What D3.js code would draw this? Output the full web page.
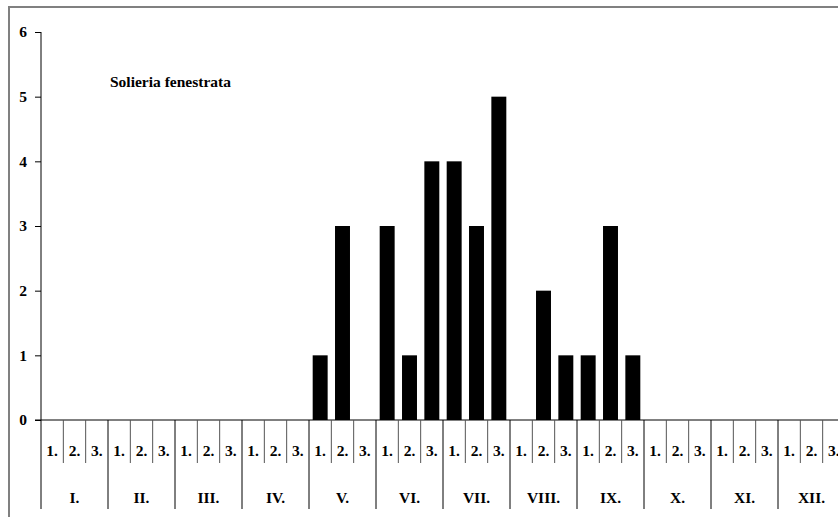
<!DOCTYPE html>
<html>
<head>
<meta charset="utf-8">
<script src="https://cdn.jsdelivr.net/npm/d3@7"></script>
<style>
  body { margin: 0; background: #fff; }
  text { font-family: "Liberation Serif", "DejaVu Serif", serif; font-weight: bold; fill: #000; }
</style>
</head>
<body>
<div id="chart"></div>
<script>
// months and decades (1st, 2nd, 3rd ten days of each month)
const months = ['I.', 'II.', 'III.', 'IV.', 'V.', 'VI.', 'VII.', 'VIII.', 'IX.', 'X.', 'XI.', 'XII.'];
const decades = ['1.', '2.', '3.'];
// counts per decade, Jan.1 .. Dec.3
const counts = [
  0, 0, 0,  0, 0, 0,  0, 0, 0,  0, 0, 0,
  1, 3, 0,  3, 1, 4,  4, 3, 5,  0, 2, 1,
  1, 3, 1,  0, 0, 0,  0, 0, 0,  0, 0, 0
];
const yTicks = [0, 1, 2, 3, 4, 5, 6];
const title = 'Solieria fenestrata';

const width = 838, height = 517;
const margin = { left: 41, top: 32, bottom: 420 };
const fs = '15.5px';

const slots = [];
months.forEach((m, i) => decades.forEach((d, j) => slots.push({ month: m, mi: i, dec: d, key: i * 3 + j })));

const svg = d3.select('#chart').append('svg')
  .attr('width', width)
  .attr('height', height);

// outer frame (runs off the right and bottom edge)
svg.append('rect')
  .attr('x', 9).attr('y', 7)
  .attr('width', 900).attr('height', 600)
  .attr('fill', 'none')
  .attr('stroke', '#808080')
  .attr('stroke-width', 2);

const x = d3.scaleBand()
  .domain(slots.map(d => d.key))
  .range([margin.left, margin.left + 804])
  .paddingInner(0.33)
  .paddingOuter(0.165);

const xEdge = d3.scaleLinear().domain([0, 36]).range([margin.left, margin.left + 804]);

const y = d3.scaleLinear().domain([0, 6]).range([margin.bottom, margin.top]);

// y axis
const yAxis = svg.append('g')
  .attr('transform', `translate(${margin.left},0)`)
  .call(d3.axisLeft(y).tickValues(yTicks).tickFormat(d3.format('d')).tickSize(6).tickPadding(8));
yAxis.select('.domain').attr('d', `M0,${margin.top}V509`).attr('stroke', '#000');
yAxis.selectAll('.tick line').attr('stroke', '#000');
yAxis.selectAll('.tick text')
  .style('font-size', fs)
  .style('font-family', '"Liberation Serif", serif')
  .style('font-weight', 'bold');

// bars
svg.append('g').selectAll('rect')
  .data(slots.filter(d => counts[d.key] > 0))
  .join('rect')
  .attr('x', d => x(d.key))
  .attr('width', x.bandwidth())
  .attr('y', d => y(counts[d.key]))
  .attr('height', d => y(0) - y(counts[d.key]))
  .attr('fill', '#000');

// x axis baseline
svg.append('line')
  .attr('x1', margin.left - 6).attr('x2', width)
  .attr('y1', y(0)).attr('y2', y(0))
  .attr('stroke', '#000');

// decade separators
svg.append('g').selectAll('line')
  .data(d3.range(1, 37).filter(i => i % 3 !== 0))
  .join('line')
  .attr('x1', i => xEdge(i)).attr('x2', i => xEdge(i))
  .attr('y1', y(0)).attr('y2', 463)
  .attr('stroke', '#555');

// month separators
svg.append('g').selectAll('line')
  .data(d3.range(3, 37, 3))
  .join('line')
  .attr('x1', i => xEdge(i)).attr('x2', i => xEdge(i))
  .attr('y1', y(0)).attr('y2', 509)
  .attr('stroke', '#000');

// decade labels
svg.append('g').selectAll('text')
  .data(slots)
  .join('text')
  .attr('x', d => xEdge(d.key + 0.5))
  .attr('y', 456)
  .attr('text-anchor', 'middle')
  .style('font-size', fs)
  .text(d => d.dec);

// month labels
svg.append('g').selectAll('text')
  .data(months)
  .join('text')
  .attr('x', (d, i) => xEdge(i * 3 + 1.5))
  .attr('y', 503)
  .attr('text-anchor', 'middle')
  .style('font-size', fs)
  .text(d => d);

svg.append('text')
  .attr('x', 110).attr('y', 87)
  .style('font-size', fs)
  .text(title);
</script>
</body>
</html>
